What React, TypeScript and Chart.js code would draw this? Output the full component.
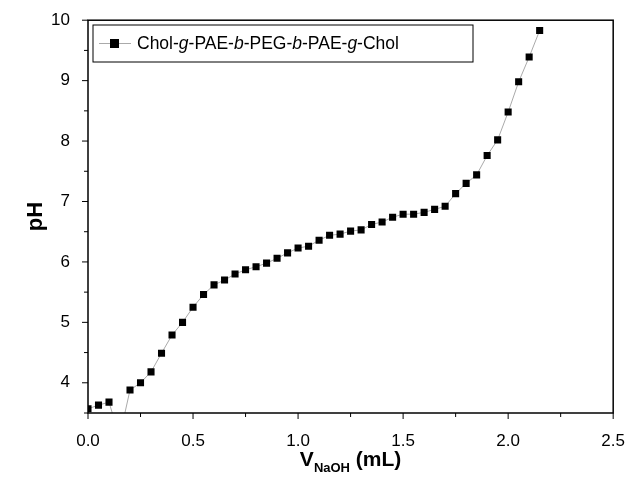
import React, { useEffect, useRef } from 'react';
import { Chart, registerables } from 'chart.js';

Chart.register(...registerables);

const volume = [0, 0.05, 0.1, 0.15, 0.2, 0.25, 0.3, 0.35, 0.4, 0.45, 0.5, 0.55, 0.6, 0.65, 0.7, 0.75, 0.8, 0.85, 0.9, 0.95, 1.0, 1.05, 1.1, 1.15, 1.2, 1.25, 1.3, 1.35, 1.4, 1.45, 1.5, 1.55, 1.6, 1.65, 1.7, 1.75, 1.8, 1.85, 1.9, 1.95, 2.0, 2.05, 2.1, 2.15];
const ph = [3.57, 3.63, 3.68, 3.1, 3.88, 4.0, 4.18, 4.49, 4.79, 5.0, 5.25, 5.46, 5.62, 5.7, 5.8, 5.87, 5.92, 5.98, 6.06, 6.15, 6.23, 6.26, 6.36, 6.44, 6.46, 6.51, 6.53, 6.62, 6.66, 6.74, 6.79, 6.79, 6.82, 6.87, 6.92, 7.13, 7.3, 7.44, 7.76, 8.02, 8.48, 8.98, 9.39, 9.83];
const legendParts: [string, boolean][] = [['Chol-', false], ['g', true], ['-PAE-', false], ['b', true], ['-PEG-', false], ['b', true], ['-PAE-', false], ['g', true], ['-Chol', false]];

const FONT = '"Liberation Sans", Arial, sans-serif';

const decor = {
  id: 'decor',
  afterDraw(chart: any) {
    const { ctx, chartArea: a, scales } = chart;
    const x = scales.x, y = scales.y;
    ctx.save();
    ctx.strokeStyle = '#000';
    ctx.lineWidth = 1.5;
    ctx.strokeRect(a.left, a.top, a.right - a.left, a.bottom - a.top);
    ctx.lineWidth = 1;
    for (let v = 0; v <= 2.5001; v += 0.25) {
      const px = x.getPixelForValue(v);
      const major = Math.abs(v * 2 - Math.round(v * 2)) < 1e-6;
      ctx.beginPath(); ctx.moveTo(px, a.bottom); ctx.lineTo(px, a.bottom + (major ? 6 : 4)); ctx.stroke();
    }
    for (let v = 3.5; v <= 10.001; v += 0.5) {
      const py = y.getPixelForValue(v);
      const major = Math.abs(v - Math.round(v)) < 1e-6;
      ctx.beginPath(); ctx.moveTo(a.left, py); ctx.lineTo(a.left - (major ? 6 : 4), py); ctx.stroke();
    }
    // axis titles
    ctx.fillStyle = '#000';
    ctx.textBaseline = 'alphabetic';
    const t1 = 'V', t2 = 'NaOH', t3 = ' (mL)';
    ctx.font = `bold 21px ${FONT}`; const w1 = ctx.measureText(t1).width;
    ctx.font = `bold 13px ${FONT}`; const w2 = ctx.measureText(t2).width;
    ctx.font = `bold 21px ${FONT}`; const w3 = ctx.measureText(t3).width;
    let sx = (a.left + a.right) / 2 - (w1 + w2 + w3) / 2;
    const by = 466;
    ctx.font = `bold 21px ${FONT}`; ctx.fillText(t1, sx, by); sx += w1;
    ctx.font = `bold 13px ${FONT}`; ctx.fillText(t2, sx, by + 6); sx += w2;
    ctx.font = `bold 21px ${FONT}`; ctx.fillText(t3, sx, by);
    ctx.translate(42, (a.top + a.bottom) / 2);
    ctx.rotate(-Math.PI / 2);
    ctx.textAlign = 'center';
    ctx.font = `bold 22px ${FONT}`;
    ctx.fillText('pH', 0, 0);
    ctx.restore();
    // legend
    ctx.save();
    ctx.fillStyle = '#fff';
    ctx.strokeStyle = '#000';
    ctx.lineWidth = 1;
    ctx.fillRect(93, 25, 380, 37);
    ctx.strokeRect(93, 25, 380, 37);
    ctx.strokeStyle = '#aaa';
    ctx.beginPath(); ctx.moveTo(99, 43.5); ctx.lineTo(131, 43.5); ctx.stroke();
    ctx.fillStyle = '#000';
    ctx.fillRect(110, 39, 9, 9);
    let lx = 137;
    ctx.textBaseline = 'middle';
    for (const [s, it] of legendParts) {
      ctx.font = `${it ? 'italic ' : ''}17.5px ${FONT}`;
      ctx.fillText(s, lx, 44);
      lx += ctx.measureText(s).width;
    }
    ctx.restore();
  },
};

export default function App() {
  const ref = useRef<HTMLCanvasElement>(null);
  useEffect(() => {
    if (!ref.current) return;
    const chart = new Chart(ref.current, {
      type: 'line',
      data: {
        datasets: [{
          data: volume.map((v, i) => ({ x: v, y: ph[i] })),
          borderColor: '#aaa',
          borderWidth: 1,
          pointStyle: 'rect',
          pointRadius: 5,
          pointBackgroundColor: '#000',
          pointBorderColor: '#000',
          pointBorderWidth: 0,
          tension: 0,
        }],
      },
      options: {
        animation: false,
        responsive: false,
        layout: { padding: { top: 15, right: 19 } },
        plugins: { legend: { display: false }, tooltip: { enabled: false } },
        scales: {
          x: {
            type: 'linear', min: 0, max: 2.5,
            grid: { display: false }, border: { display: false },
            ticks: { stepSize: 0.5, color: '#000', padding: 10, font: { family: FONT, size: 17 }, callback: (v: any) => Number(v).toFixed(1) },
            afterFit: (s: any) => { s.height = 78; },
          },
          y: {
            min: 3.5, max: 10,
            grid: { display: false }, border: { display: false },
            ticks: { stepSize: 0.5, color: '#000', padding: 10, font: { family: FONT, size: 17 }, callback: (v: any) => (Number.isInteger(Number(v)) ? String(v) : '') },
            afterFit: (s: any) => { s.width = 88; },
          },
        },
      },
      plugins: [decor],
    });
    return () => chart.destroy();
  }, []);
  return (
    <div style={{ position: 'fixed', left: 0, top: 0, width: 635, height: 491, background: '#fff' }}>
      <canvas ref={ref} width={635} height={491} />
    </div>
  );
}
